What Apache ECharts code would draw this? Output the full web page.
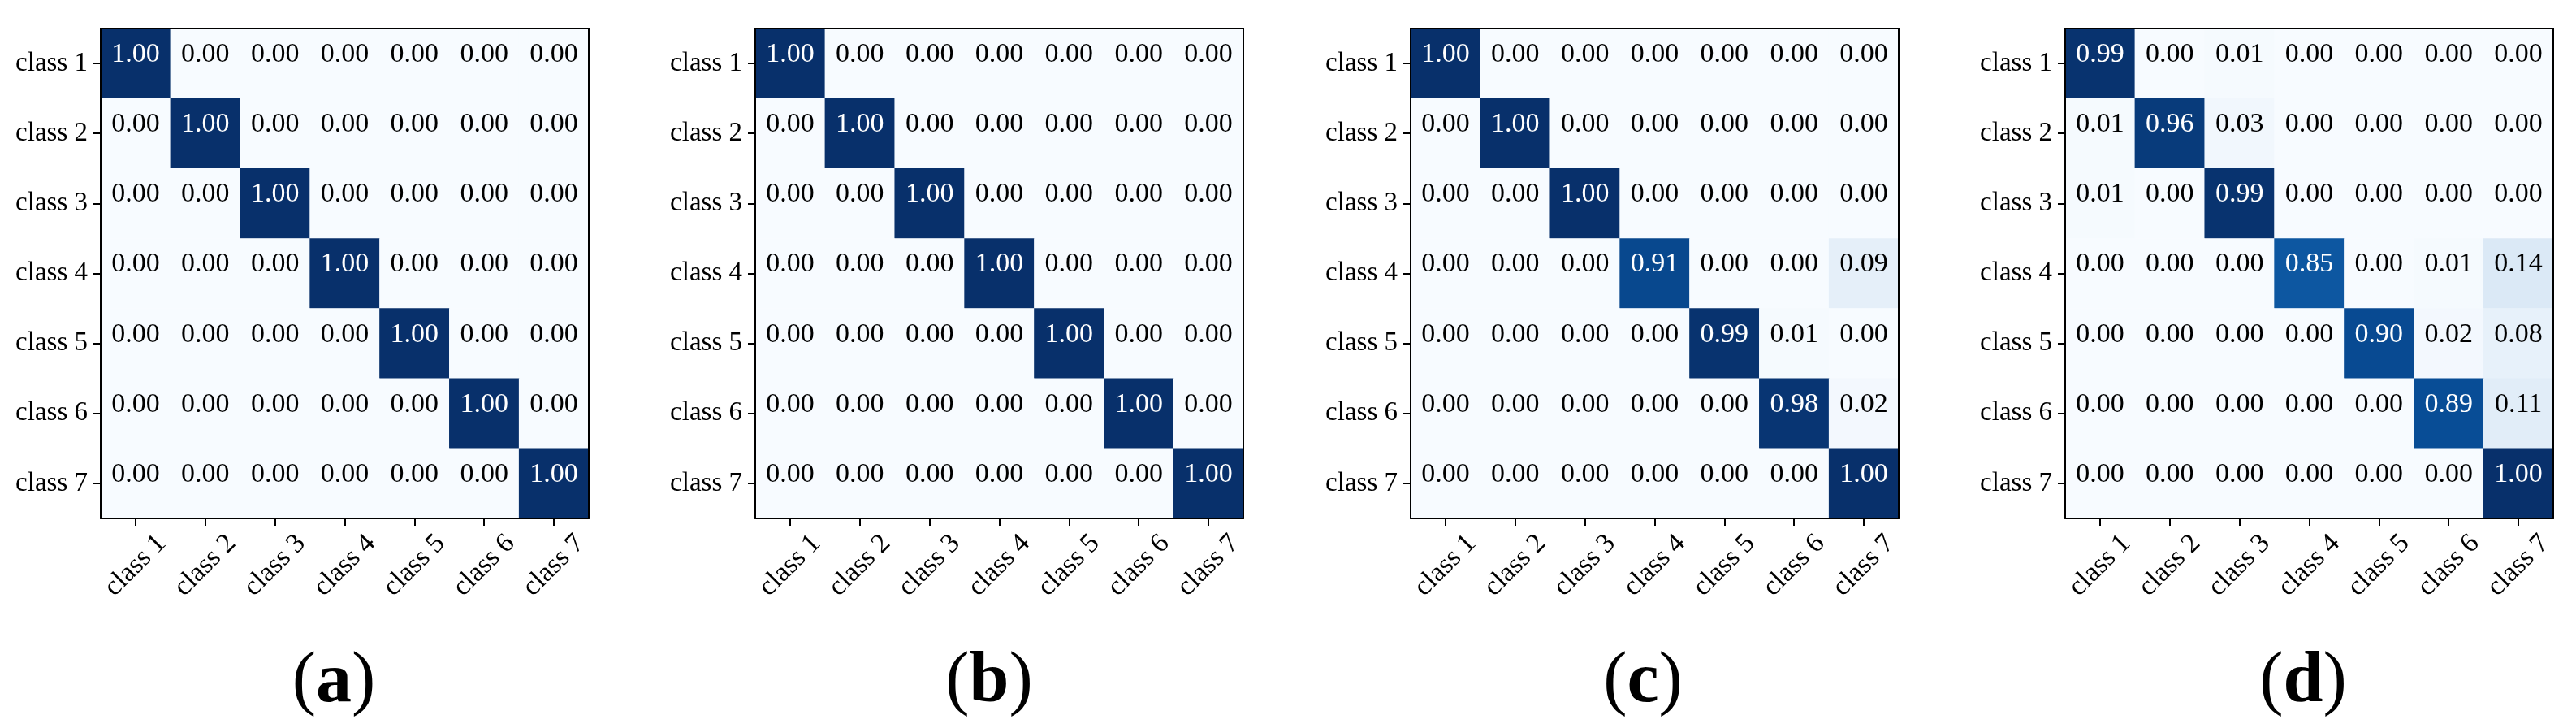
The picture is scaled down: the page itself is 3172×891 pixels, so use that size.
<!DOCTYPE html>
<html>
<head>
<meta charset="utf-8">
<script src="https://cdn.jsdelivr.net/npm/echarts@6/dist/echarts.min.js"></script>
<style>
html,body{margin:0;padding:0;background:#fff;}
#chart{width:3172px;height:891px;}
</style>
</head>
<body>
<div id="chart"></div>
<script>
const categories = ['class 1','class 2','class 3','class 4','class 5','class 6','class 7'];
const panelLabels = ['a','b','c','d'];

const matrixA = [
  [1.00,0.00,0.00,0.00,0.00,0.00,0.00],
  [0.00,1.00,0.00,0.00,0.00,0.00,0.00],
  [0.00,0.00,1.00,0.00,0.00,0.00,0.00],
  [0.00,0.00,0.00,1.00,0.00,0.00,0.00],
  [0.00,0.00,0.00,0.00,1.00,0.00,0.00],
  [0.00,0.00,0.00,0.00,0.00,1.00,0.00],
  [0.00,0.00,0.00,0.00,0.00,0.00,1.00]
];
const matrixB = [
  [1.00,0.00,0.00,0.00,0.00,0.00,0.00],
  [0.00,1.00,0.00,0.00,0.00,0.00,0.00],
  [0.00,0.00,1.00,0.00,0.00,0.00,0.00],
  [0.00,0.00,0.00,1.00,0.00,0.00,0.00],
  [0.00,0.00,0.00,0.00,1.00,0.00,0.00],
  [0.00,0.00,0.00,0.00,0.00,1.00,0.00],
  [0.00,0.00,0.00,0.00,0.00,0.00,1.00]
];
const matrixC = [
  [1.00,0.00,0.00,0.00,0.00,0.00,0.00],
  [0.00,1.00,0.00,0.00,0.00,0.00,0.00],
  [0.00,0.00,1.00,0.00,0.00,0.00,0.00],
  [0.00,0.00,0.00,0.91,0.00,0.00,0.09],
  [0.00,0.00,0.00,0.00,0.99,0.01,0.00],
  [0.00,0.00,0.00,0.00,0.00,0.98,0.02],
  [0.00,0.00,0.00,0.00,0.00,0.00,1.00]
];
const matrixD = [
  [0.99,0.00,0.01,0.00,0.00,0.00,0.00],
  [0.01,0.96,0.03,0.00,0.00,0.00,0.00],
  [0.01,0.00,0.99,0.00,0.00,0.00,0.00],
  [0.00,0.00,0.00,0.85,0.00,0.01,0.14],
  [0.00,0.00,0.00,0.00,0.90,0.02,0.08],
  [0.00,0.00,0.00,0.00,0.00,0.89,0.11],
  [0.00,0.00,0.00,0.00,0.00,0.00,1.00]
];
const matrices = [matrixA, matrixB, matrixC, matrixD];

const blues = ['#f7fbff','#deebf7','#c6dbef','#9ecae1','#6baed6','#4292c6','#2171b5','#08519c','#08306b'];

const FONT = 'Liberation Serif';
const gridLefts = [124, 930, 1737, 2543];
const gridTop = 35, gridW = 601, gridH = 603;
const titleOffsets = [282, 283, 281, 288];

const grids = [], xAxes = [], yAxes = [], series = [], titles = [];
gridLefts.forEach((left, i) => {
  grids.push({left: left, top: gridTop, width: gridW, height: gridH, containLabel: false});
  const frameLine = {show: true, lineStyle: {color: '#000', width: 2}};
  xAxes.push({
    type: 'category', gridIndex: i, data: categories, position: 'bottom', z: 10,
    axisLine: frameLine,
    axisTick: {show: true, alignWithLabel: true, length: 9, lineStyle: {color: '#000', width: 2}},
    axisLabel: {rotate: 45, align: 'center', verticalAlign: 'middle', margin: 58,
      fontFamily: FONT, fontSize: 34, color: '#000', interval: 0},
    splitLine: {show: false}
  });
  xAxes.push({
    type: 'category', gridIndex: i, data: categories, position: 'top', z: 10,
    axisLine: frameLine, axisTick: {show: false}, axisLabel: {show: false}, splitLine: {show: false}
  });
  yAxes.push({
    type: 'category', gridIndex: i, data: categories, inverse: true, position: 'left', z: 10,
    axisLine: frameLine,
    axisTick: {show: true, alignWithLabel: true, length: 9, lineStyle: {color: '#000', width: 2}},
    axisLabel: {margin: 16, fontFamily: FONT, fontSize: 33, color: '#000', interval: 0},
    splitLine: {show: false}
  });
  yAxes.push({
    type: 'category', gridIndex: i, data: categories, inverse: true, position: 'right', z: 10,
    axisLine: frameLine, axisTick: {show: false}, axisLabel: {show: false}, splitLine: {show: false}
  });
  const data = [];
  matrices[i].forEach((row, r) => {
    row.forEach((v, c) => {
      data.push({value: [c, r, v], label: {color: v > 0.5 ? '#ffffff' : '#000000'}});
    });
  });
  series.push({
    type: 'heatmap', xAxisIndex: 2 * i, yAxisIndex: 2 * i, data: data,
    label: {show: true, fontFamily: FONT, fontSize: 34, offset: [0, -11],
      formatter: p => p.value[2].toFixed(2)},
    itemStyle: {borderWidth: 0},
    emphasis: {disabled: true}
  });
  titles.push({
    text: '{p|(}{b|' + panelLabels[i] + '}{p|)}',
    left: left + titleOffsets[i], top: 791, textAlign: 'center',
    textStyle: {rich: {
      p: {fontFamily: FONT, fontSize: 88, fontWeight: 'normal', color: '#000'},
      b: {fontFamily: FONT, fontSize: 88, fontWeight: 'bold', color: '#000'}
    }}
  });
});

const chart = echarts.init(document.getElementById('chart'), null, {renderer: 'canvas'});
chart.setOption({
  animation: false,
  backgroundColor: '#ffffff',
  title: titles,
  grid: grids,
  xAxis: xAxes,
  yAxis: yAxes,
  visualMap: {
    show: false, type: 'continuous', min: 0, max: 1, dimension: 2,
    seriesIndex: [0, 1, 2, 3], inRange: {color: blues}
  },
  series: series
});
</script>
</body>
</html>
